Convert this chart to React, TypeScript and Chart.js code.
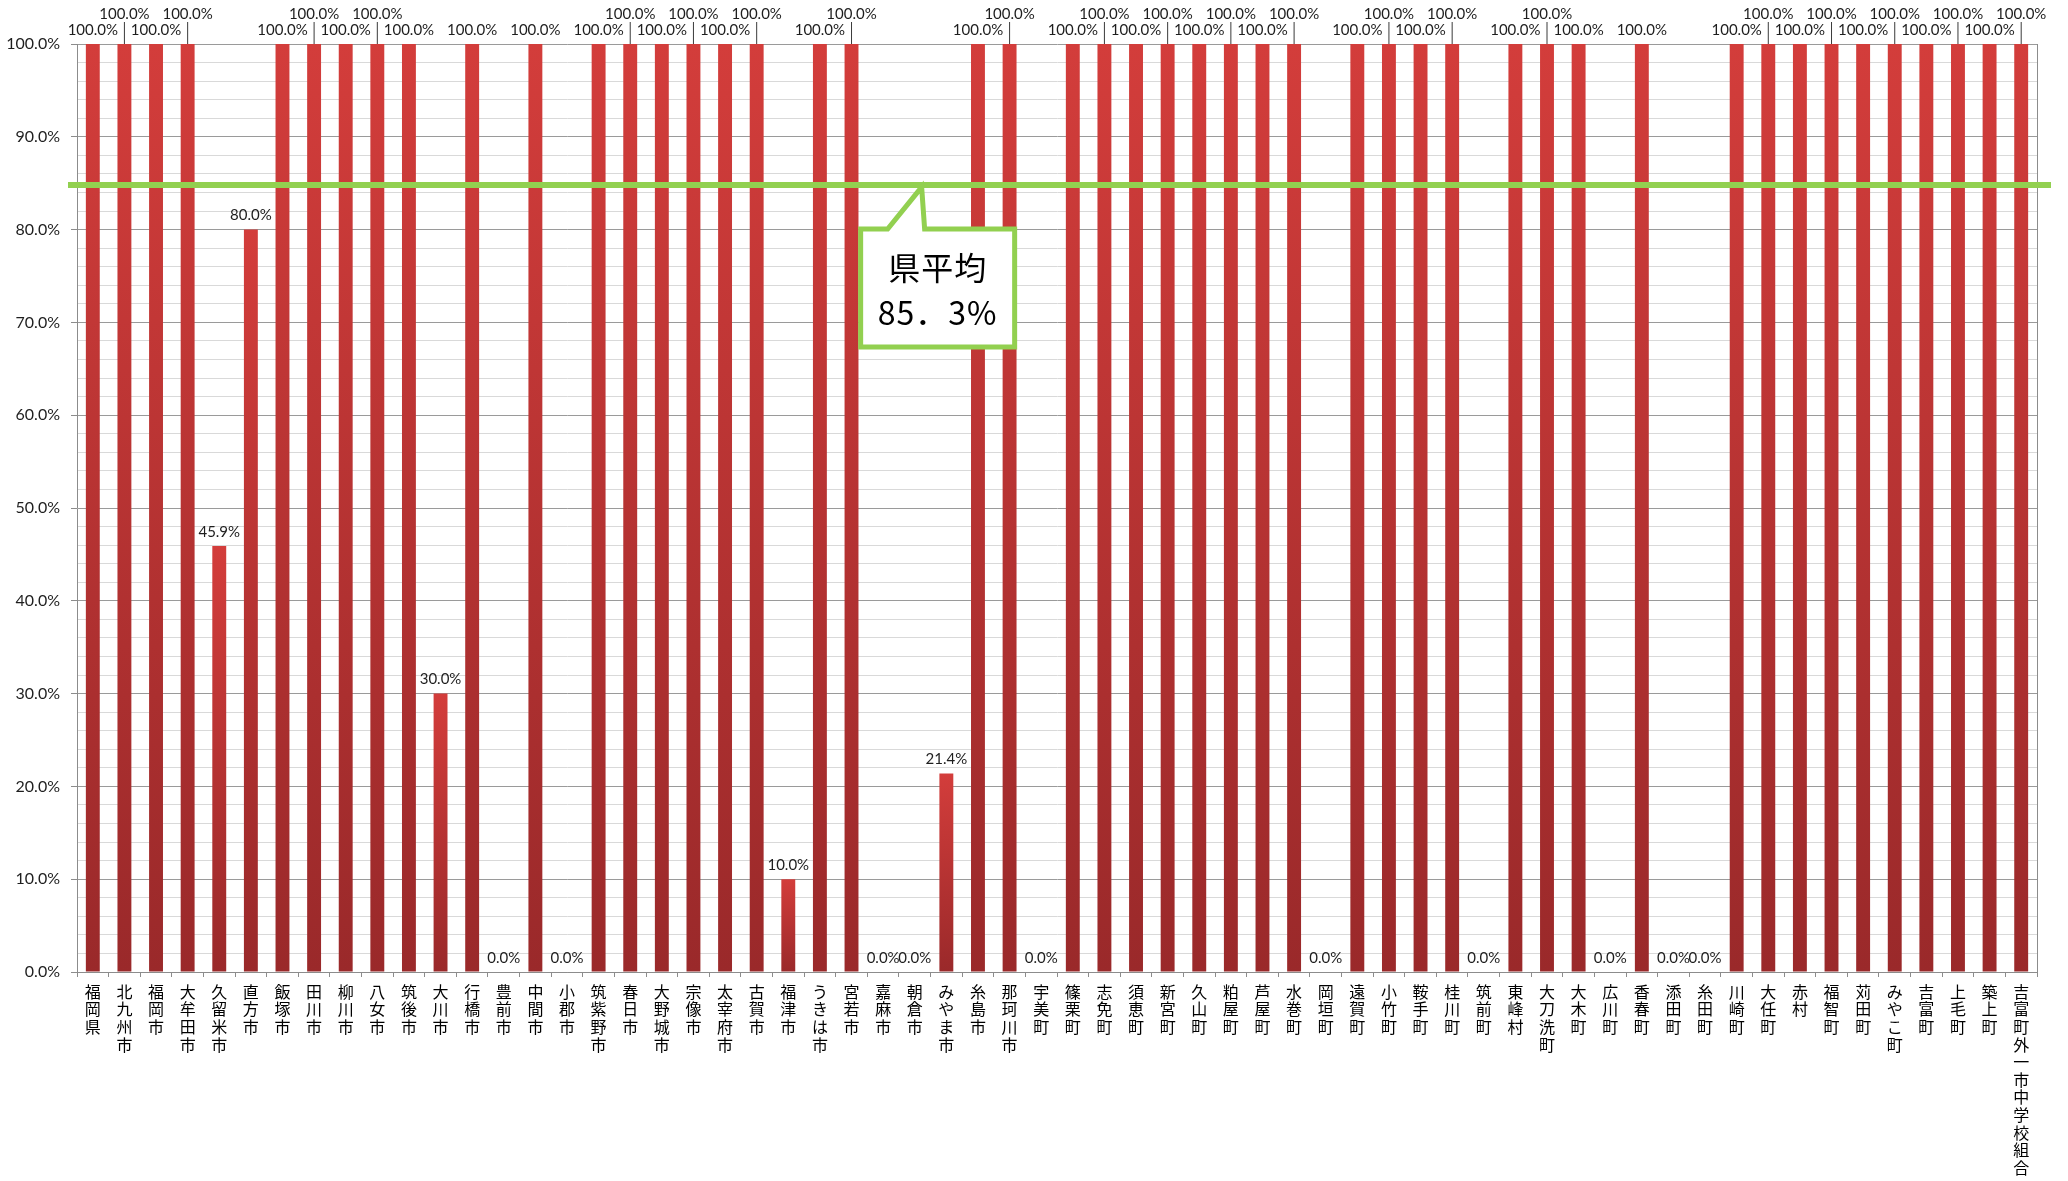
import React, { useEffect, useRef } from 'react';
import { Chart, registerables } from 'chart.js';

Chart.register(...registerables);

const categories: string[] = [
  '福岡県', '北九州市', '福岡市', '大牟田市', '久留米市', '直方市', '飯塚市', '田川市', '柳川市', '八女市',
  '筑後市', '大川市', '行橋市', '豊前市', '中間市', '小郡市', '筑紫野市', '春日市', '大野城市', '宗像市',
  '太宰府市', '古賀市', '福津市', 'うきは市', '宮若市', '嘉麻市', '朝倉市', 'みやま市', '糸島市', '那珂川市',
  '宇美町', '篠栗町', '志免町', '須恵町', '新宮町', '久山町', '粕屋町', '芦屋町', '水巻町', '岡垣町',
  '遠賀町', '小竹町', '鞍手町', '桂川町', '筑前町', '東峰村', '大刀洗町', '大木町', '広川町', '香春町',
  '添田町', '糸田町', '川崎町', '大任町', '赤村', '福智町', '苅田町', 'みやこ町', '吉富町', '上毛町',
  '築上町', '吉富町外一市中学校組合',
];

const values: number[] = [
  100, 100, 100, 100, 45.9, 80, 100, 100, 100, 100, 100, 30, 100,
  0, 100, 0, 100, 100, 100, 100, 100, 100, 10, 100, 100, 0,
  0, 21.4, 100, 100, 0, 100, 100, 100, 100, 100, 100, 100, 100,
  0, 100, 100, 100, 100, 0, 100, 100, 100, 0, 100, 0, 0,
  100, 100, 100, 100, 100, 100, 100, 100, 100, 100,
];

const yMin = 0;
const yMax = 100;
const yMinorStep = 2;
const yMajorStep = 10;

const averageText: string[] = ['県平均', '85．3%'];
const averageLineValue = 84.8;
const calloutCategoryIndex = 26;

const NUM_FONT = 'Lato, "Liberation Sans", sans-serif';
const CJK_FONT = '"Noto Sans CJK JP", "Noto Sans", sans-serif';

const overlayPlugin = {
  id: 'overlay',
  afterDatasetsDraw(chart: any) {
    const { ctx, chartArea, scales } = chart;
    const xs = scales.x;
    const ys = scales.y;
    ctx.save();

    // right border of plot area
    ctx.strokeStyle = '#8c8c8c';
    ctx.lineWidth = 1;
    ctx.beginPath();
    ctx.moveTo(chartArea.right + 0.5, chartArea.top);
    ctx.lineTo(chartArea.right + 0.5, chartArea.bottom);
    ctx.stroke();

    // value labels
    const meta = chart.getDatasetMeta(0);
    ctx.font = `15px ${NUM_FONT}`;
    ctx.textAlign = 'center';
    ctx.textBaseline = 'middle';
    const placed: { l: number; r: number; cy: number }[] = [];
    const tol = 4;
    meta.data.forEach((el: any, i: number) => {
      const text = values[i].toFixed(1) + '%';
      const w = ctx.measureText(text).width;
      const overlaps = (cx: number, cy: number) =>
        placed.some(
          (p) => Math.abs(p.cy - cy) < 12 && cx - w / 2 < p.r - tol && cx + w / 2 > p.l + tol,
        );
      let cx = el.x;
      let cy = el.y - 14;
      let raised = false;
      if (overlaps(cx, cy)) {
        const cy1 = el.y - 30;
        if (!overlaps(cx, cy1)) {
          cy = cy1;
          raised = true;
        } else {
          const rs = placed.filter((p) => Math.abs(p.cy - cy) < 12).map((p) => p.r);
          cx = Math.max(...rs) + 2 + w / 2;
        }
      }
      placed.push({ l: cx - w / 2, r: cx + w / 2, cy });
      if (raised) {
        ctx.strokeStyle = '#3a3a3a';
        ctx.lineWidth = 1;
        ctx.beginPath();
        ctx.moveTo(cx, cy + 8);
        ctx.lineTo(el.x, el.y);
        ctx.stroke();
      }
      ctx.fillStyle = '#1e1e1e';
      ctx.fillText(text, cx, cy);
    });

    // average line
    const ly = ys.getPixelForValue(averageLineValue);
    ctx.strokeStyle = '#92D050';
    ctx.lineWidth = 6;
    ctx.beginPath();
    ctx.moveTo(chartArea.left - 9, ly);
    ctx.lineTo(chartArea.right + 14, ly);
    ctx.stroke();

    // callout
    const step = xs.getPixelForValue(1) - xs.getPixelForValue(0);
    const tipX = xs.getPixelForValue(calloutCategoryIndex) + step * 0.25;
    const top = ly + 44;
    const bottom = ly + 162;
    const left = tipX - 62;
    const right = tipX + 92;
    ctx.beginPath();
    ctx.moveTo(left, top);
    ctx.lineTo(tipX - 35, top);
    ctx.lineTo(tipX - 1, ly + 2);
    ctx.lineTo(tipX + 2, top);
    ctx.lineTo(right, top);
    ctx.lineTo(right, bottom);
    ctx.lineTo(left, bottom);
    ctx.closePath();
    ctx.fillStyle = '#ffffff';
    ctx.fill();
    ctx.lineWidth = 5;
    ctx.lineJoin = 'miter';
    ctx.strokeStyle = '#92D050';
    ctx.stroke();

    ctx.fillStyle = '#000000';
    ctx.textAlign = 'center';
    ctx.textBaseline = 'middle';
    ctx.font = `32px ${CJK_FONT}`;
    try {
      (ctx as any).letterSpacing = '1px';
    } catch (e) {
      /* ignore */
    }
    const midX = (left + right) / 2;
    ctx.fillText(averageText[0], midX, top + 39);
    ctx.fillText(averageText[1], midX, top + 84);

    ctx.restore();
  },
};

export default function App() {
  const canvasRef = useRef<HTMLCanvasElement | null>(null);

  useEffect(() => {
    const canvas = canvasRef.current;
    if (!canvas) return;
    const chart = new Chart(canvas, {
      type: 'bar',
      data: {
        labels: categories.map((c) => Array.from(c)),
        datasets: [
          {
            data: values,
            backgroundColor: (c: any) => {
              const ys = c.chart.scales?.y;
              if (!ys || typeof c.raw !== 'number') return '#C0393A';
              const t = ys.getPixelForValue(c.raw);
              const b = ys.getPixelForValue(0);
              if (!isFinite(t) || !isFinite(b) || Math.abs(b - t) < 1) return '#C0393A';
              const g = c.chart.ctx.createLinearGradient(0, t, 0, b);
              g.addColorStop(0, '#D33D3B');
              g.addColorStop(1, '#9A292A');
              return g;
            },
            borderWidth: 0,
            barPercentage: 0.44,
            categoryPercentage: 1,
          },
        ],
      },
      options: {
        responsive: false,
        animation: false,
        events: [],
        layout: { padding: { left: 0, top: 44, right: 31, bottom: 0 } },
        plugins: {
          legend: { display: false },
          tooltip: { enabled: false },
          title: { display: false },
        },
        scales: {
          x: {
            offset: true,
            border: { color: '#8c8c8c', width: 1 },
            grid: {
              offset: true,
              drawOnChartArea: false,
              tickLength: 5,
              color: '#8c8c8c',
            },
            ticks: {
              autoSkip: false,
              maxRotation: 0,
              minRotation: 0,
              padding: 6,
              color: '#000000',
              font: { family: CJK_FONT, size: 16, lineHeight: 1.1 },
            },
            afterFit: (scale: any) => {
              scale.height = 209;
            },
          },
          y: {
            min: yMin,
            max: yMax,
            border: { color: '#8c8c8c', width: 1 },
            grid: {
              color: (c: any) => (c.tick && c.tick.value % yMajorStep === 0 ? '#9a9a9a' : '#d9d9d9'),
              tickColor: (c: any) => (c.tick && c.tick.value % yMajorStep === 0 ? '#8c8c8c' : 'rgba(0,0,0,0)'),
              tickLength: 6,
              lineWidth: 1,
            },
            ticks: {
              stepSize: yMinorStep,
              autoSkip: false,
              padding: 11,
              color: '#1e1e1e',
              font: { family: NUM_FONT, size: 16 },
              callback: (v: any) => (Number(v) % yMajorStep === 0 ? Number(v).toFixed(1) + '%' : ''),
            },
            afterFit: (scale: any) => {
              scale.width = 77;
            },
          },
        },
      },
      plugins: [overlayPlugin],
    });
    return () => chart.destroy();
  }, []);

  return (
    <canvas
      ref={canvasRef}
      width={2068}
      height={1181}
      style={{ position: 'fixed', left: 0, top: 0, width: 2068, height: 1181, display: 'block', background: '#ffffff' }}
    />
  );
}
